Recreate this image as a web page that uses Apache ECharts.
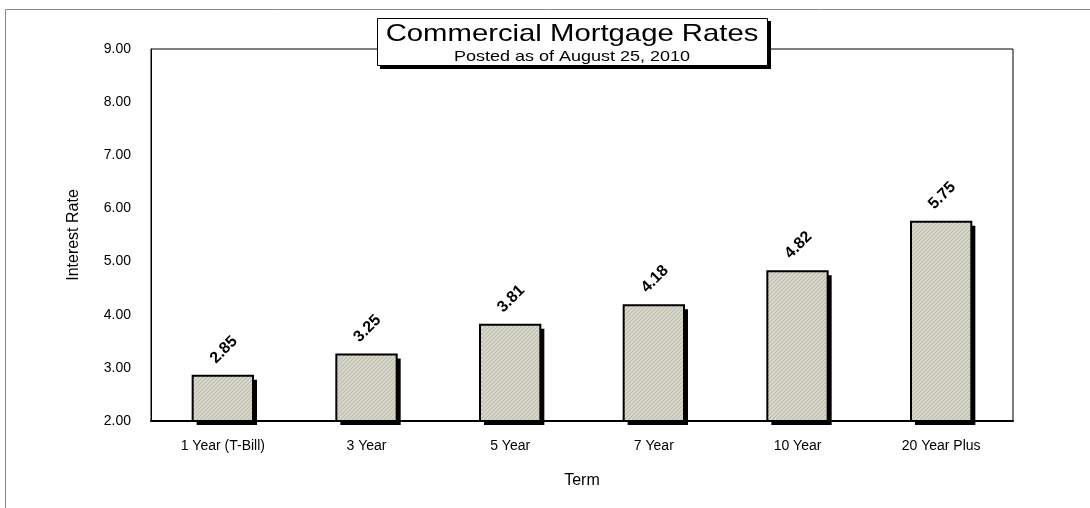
<!DOCTYPE html>
<html><head><meta charset="utf-8">
<script src="https://cdn.jsdelivr.net/npm/echarts@6/dist/echarts.min.js"></script>
<style>html,body{margin:0;padding:0;background:#fff}#c{width:1090px;height:508px}</style>
</head><body><div id="c"></div>
<script>
const categories = ['1 Year (T-Bill)', '3 Year', '5 Year', '7 Year', '10 Year', '20 Year Plus'];
const rates = [2.85, 3.25, 3.81, 4.18, 4.82, 5.75];
const titleText = 'Commercial Mortgage Rates';
const subtitleText = 'Posted as of August 25, 2010';

// hatch pattern tile
function makeHatch() {
  const s = 4;
  const c = document.createElement('canvas');
  c.width = s; c.height = s;
  const g = c.getContext('2d');
  g.fillStyle = '#dadacd';
  g.fillRect(0, 0, s, s);
  g.strokeStyle = '#bdbdad';
  g.lineWidth = 1.2;
  g.beginPath();
  g.moveTo(-1, s + 1); g.lineTo(s + 1, -1);
  g.moveTo(-1, 1); g.lineTo(1, -1);
  g.moveTo(s - 1, s + 1); g.lineTo(s + 1, s - 1);
  g.stroke();
  return c;
}
const hatch = makeHatch();

const chart = echarts.init(document.getElementById('c'));
const font = 'Arial, "Liberation Sans", sans-serif';
const yMin = 2;
chart.setOption({
  animation: false,
  backgroundColor: '#fff',
  grid: { left: 151, right: 77, top: 49, bottom: 87, show: true, borderColor: '#000', borderWidth: 1 },
  xAxis: {
    type: 'category', data: categories,
    name: 'Term', nameLocation: 'middle', nameGap: 52,
    nameTextStyle: { fontFamily: font, fontSize: 16, color: '#000' },
    axisLine: { lineStyle: { color: '#000', width: 2 } },
    axisTick: { show: true, inside: true, alignWithLabel: true, length: 3, lineStyle: { color: '#000' } },
    axisLabel: { fontFamily: font, fontSize: 14, color: '#000', margin: 18 }
  },
  yAxis: {
    type: 'value', min: yMin, max: 9, interval: 1,
    name: 'Interest Rate', nameLocation: 'middle', nameGap: 69,
    nameTextStyle: { fontFamily: font, fontSize: 16, color: '#000' },
    axisLine: { show: true, lineStyle: { color: '#000', width: 1 } },
    axisTick: { show: false },
    splitLine: { show: false },
    axisLabel: { fontFamily: font, fontSize: 14, color: '#000', margin: 20, formatter: v => v.toFixed(2) }
  },
  series: [{
    type: 'custom',
    data: rates.map((v, i) => [i, v]),
    encode: { x: 0, y: 1 },
    z: 5,
    renderItem: function (params, api) {
      const idx = api.value(0), val = api.value(1);
      const top = api.coord([idx, val]);
      const base = api.coord([idx, yMin]);
      const w = api.size([1, 0])[0] * 0.42;
      const x0 = top[0] - w / 2;
      const h = base[1] - top[1];
      return {
        type: 'group',
        children: [
          { type: 'rect', shape: { x: x0 + 4, y: top[1] + 4, width: w, height: h }, style: { fill: '#000' } },
          { type: 'rect', shape: { x: x0, y: top[1], width: w, height: h },
            style: { fill: { image: hatch, repeat: 'repeat' }, stroke: '#000', lineWidth: 2 } },
          { type: 'text', x: top[0] + 1, y: top[1] - 26, rotation: Math.PI / 4,
            style: { text: val.toFixed(2), font: 'bold 16px Arial, "Liberation Sans", sans-serif', fill: '#000', align: 'center', verticalAlign: 'middle' } }
        ]
      };
    }
  }],
  graphic: [
    { type: 'rect', z: 0, silent: true, shape: { x: 5.5, y: 9.5, width: 1200, height: 600 }, style: { fill: 'none', stroke: '#888', lineWidth: 1 } },
    { type: 'rect', z: 99, shape: { x: 380, y: 21, width: 391, height: 48 }, style: { fill: '#000' } },
    { type: 'rect', z: 100, shape: { x: 377.5, y: 18.5, width: 390, height: 47 },
      style: { fill: '#fff', stroke: '#000', lineWidth: 1 } },
    { type: 'text', z: 101, x: 572, y: 22, scaleX: 1.22, style: { text: titleText, font: '24px Arial, "Liberation Sans", sans-serif', fill: '#000', align: 'center', verticalAlign: 'top' } },
    { type: 'text', z: 101, x: 572, y: 49, scaleX: 1.2, style: { text: subtitleText, font: '15px Arial, "Liberation Sans", sans-serif', fill: '#000', align: 'center', verticalAlign: 'top' } }
  ]
});
</script></body></html>
